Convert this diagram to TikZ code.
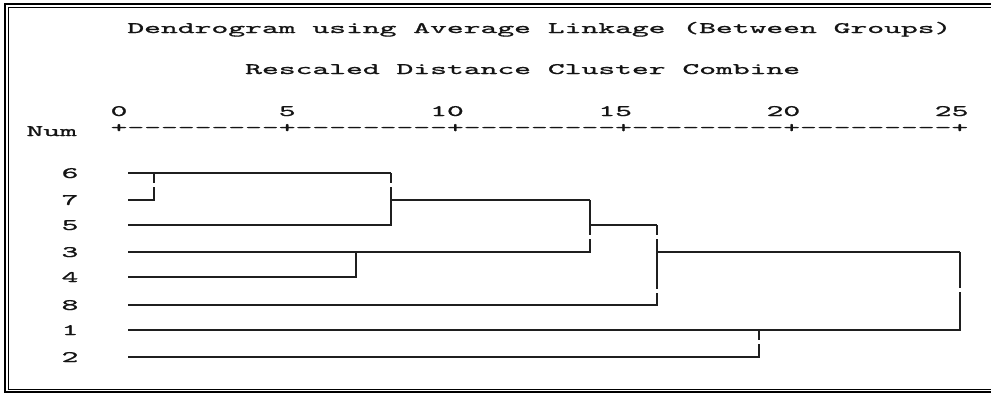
\documentclass[tikz,border=0pt]{standalone}
\usepackage{graphicx}
% wide, slightly heavy typewriter text, as printed by the statistics package
\font\wttfont="[lmmono10-regular.otf]:embolden=0.8" at 16pt
\newcommand\wtt[1]{\scalebox{2.002}[1]{\wttfont #1}}
\newcommand\dsh{-\kern0pt}
\newcommand\ninedash{\dsh\dsh\dsh\dsh\dsh\dsh\dsh\dsh\dsh}
\tikzset{
  txt/.style={inner sep=0pt, outer sep=0pt, text=black!92},
  link/.style={draw=black!88, line width=1.9pt, line join=miter},
  brk/.style={fill=white},
  frameout/.style={draw=black, line width=2pt},
  framein/.style={draw=black, line width=1pt}
}
\begin{document}
\begin{tikzpicture}[x=1pt, y=-1pt]
\useasboundingbox (0,0) rectangle (991,394);

% frame
\draw[frameout] (991,4) -- (4.5,4) -- (4.5,392) -- (991,392);
\draw[framein] (991,7.5) -- (8.5,7.5) -- (8.5,389.5) -- (991,389.5);

% headings
\node[txt, anchor=base west] (title) at (127.4,33) {\wtt{Dendrogram using Average Linkage (Between Groups)}};
\node[txt, anchor=base west] (subtitle) at (245.2,74) {\wtt{Rescaled Distance Cluster Combine}};

% scale
\node[txt, anchor=base] (t0)  at (119.0,116) {\wtt{0}};
\node[txt, anchor=base] (t5)  at (287.2,116) {\wtt{5}};
\node[txt, anchor=base] (t10) at (447.0,116) {\wtt{10}};
\node[txt, anchor=base] (t15) at (615.2,116) {\wtt{15}};
\node[txt, anchor=base] (t20) at (783.4,116) {\wtt{20}};
\node[txt, anchor=base] (t25) at (951.6,116) {\wtt{25}};
\node[txt, anchor=base west] (num) at (26.5,136) {\wtt{Num}};
\node[txt, anchor=base west] (axis) at (110.6,132.5) {\wtt{+\ninedash+\ninedash+\ninedash+\ninedash+\ninedash+}};

% case labels and leaf starts
\foreach \c/\y in {6/173,7/200,5/225,3/252,4/277,8/305,1/330,2/357}{
  \node[txt, anchor=base] (n\c) at (70,\y+5) {\wtt{\c}};
  \coordinate (s\c) at (128,\y);
}

% merge points
\coordinate (m67)  at (154,173);
\coordinate (m675) at (391,173);
\coordinate (o675) at (391,200);
\coordinate (m34)  at (356,252);
\coordinate (mD)   at (590,200);
\coordinate (oD)   at (590,225);
\coordinate (mE)   at (657,225);
\coordinate (oE)   at (657,252);
\coordinate (m12)  at (759,330);
\coordinate (mG)   at (960,252);

% tree
\draw[link] (s7) -| (m67);
\draw[link] (s6) -- (m675);
\draw[link] (s5) -| (m675);
\draw[link] (s4) -| (m34);
\draw[link] (o675) -- (mD);
\draw[link] (s3) -| (mD);
\draw[link] (oD) -- (mE);
\draw[link] (s8) -| (mE);
\draw[link] (oE) -- (mG);
\draw[link] (s1) -| (mG);
\draw[link] (s2) -| (m12);

% small breaks between text rows in the vertical strokes
\foreach \x/\y in {154/185, 391/184.5, 590/237, 657/237, 657/290.5, 960/290, 759/342}{
  \fill[brk] (\x-2,\y-2) rectangle (\x+2,\y+2);
}
\end{tikzpicture}
\end{document}
